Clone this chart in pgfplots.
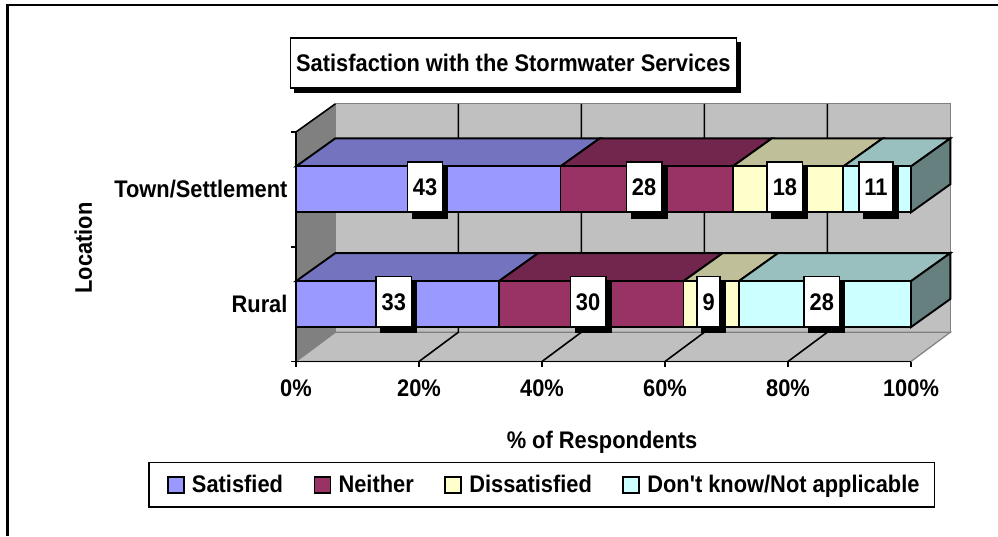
\documentclass[border=0pt]{standalone}
\usepackage{pgfplots}
\pgfplotsset{compat=1.18}
\usetikzlibrary{shadows}
\usepackage{fontspec}
\setmainfont{Liberation Sans}[BoldFont={Liberation Sans Bold},FakeStretch=0.91,Ligatures=TeXOff]
\definecolor{cSat}{HTML}{9999FF}
\definecolor{cNei}{HTML}{993366}
\definecolor{cDis}{HTML}{FFFFCC}
\definecolor{cDon}{HTML}{CCFFFF}
\definecolor{tSat}{HTML}{7373BF}
\definecolor{tNei}{HTML}{73264D}
\definecolor{tDis}{HTML}{BFBF99}
\definecolor{tDon}{HTML}{99BFBF}
\definecolor{sDon}{HTML}{668080}
\definecolor{wall}{HTML}{C0C0C0}
\definecolor{sidewall}{HTML}{808080}
\newcommand{\bigfont}{\fontsize{24}{26}\selectfont\bfseries}
\pgfplotsset{base/.style={
  at={(296pt,174.5pt)},anchor=south west,
  width=615pt,height=229.5pt,scale only axis,
  xmin=0,xmax=100,ymin=-0.5,ymax=1.5,clip=false}}
\begin{document}
\begin{tikzpicture}[x=1pt,y=1pt]
\path[use as bounding box] (0,0) rectangle (998,536);
\draw[line width=2.6pt] (7.5,0) -- (7.5,531) -- (998,531);
% walls, floor, 3D faces
\begin{axis}[base,axis lines=none,
  every axis plot/.append style={line width=1.9pt,black}]
\addplot[fill=wall,draw=sidewall,line width=1.2pt] coordinates {(6.4,-0.245)(106.4,-0.245)(106.4,1.745)(6.4,1.745)} -- cycle;
\addplot[fill=sidewall,draw=sidewall,line width=.6pt] coordinates {(0,-0.5)(6.4,-0.245)(6.4,1.745)(0,1.5)} -- cycle;
\addplot[fill=wall,draw=sidewall,line width=1.2pt] coordinates {(0,-0.5)(100,-0.5)(106.4,-0.245)(6.4,-0.245)} -- cycle;
\addplot[black,line width=1.6pt] coordinates {(0,1.5)(6.4,1.745)};
% gridlines on wall and floor
\addplot[black,line width=1.6pt] coordinates {(20,-0.5)(26.4,-0.245)(26.4,1.745)};
\addplot[black,line width=1.6pt] coordinates {(40,-0.5)(46.4,-0.245)(46.4,1.745)};
\addplot[black,line width=1.6pt] coordinates {(60,-0.5)(66.4,-0.245)(66.4,1.745)};
\addplot[black,line width=1.6pt] coordinates {(80,-0.5)(86.4,-0.245)(86.4,1.745)};
% Town: top faces
\addplot[fill=tSat] coordinates {(0,1.2)(43,1.2)(49.4,1.445)(6.4,1.445)} -- cycle;
\addplot[fill=tNei] coordinates {(43,1.2)(71,1.2)(77.4,1.445)(49.4,1.445)} -- cycle;
\addplot[fill=tDis] coordinates {(71,1.2)(89,1.2)(95.4,1.445)(77.4,1.445)} -- cycle;
\addplot[fill=tDon] coordinates {(89,1.2)(100,1.2)(106.4,1.445)(95.4,1.445)} -- cycle;
\addplot[fill=sDon] coordinates {(100,0.8)(106.4,1.045)(106.4,1.445)(100,1.2)} -- cycle;
% Rural: top faces
\addplot[fill=tSat] coordinates {(0,0.2)(33,0.2)(39.4,0.445)(6.4,0.445)} -- cycle;
\addplot[fill=tNei] coordinates {(33,0.2)(63,0.2)(69.4,0.445)(39.4,0.445)} -- cycle;
\addplot[fill=tDis] coordinates {(63,0.2)(72,0.2)(78.4,0.445)(69.4,0.445)} -- cycle;
\addplot[fill=tDon] coordinates {(72,0.2)(100,0.2)(106.4,0.445)(78.4,0.445)} -- cycle;
\addplot[fill=sDon] coordinates {(100,-0.2)(106.4,0.045)(106.4,0.445)(100,0.2)} -- cycle;
\end{axis}
% front faces, axes, legend
\begin{axis}[base,
  xbar stacked,bar width=46pt,
  axis x line*=bottom,axis y line*=left,
  axis line style={black,line width=1.8pt,-},
  xtick={0,20,40,60,80,100},
  xticklabels={0\%,20\%,40\%,60\%,80\%,100\%},
  ytick={-0.5,0.5,1.5},yticklabels={},
  extra y ticks={0,1},extra y tick labels={Rural,Town/Settlement},
  extra y tick style={major tick length=0pt,ticklabel style={font=\bigfont,xshift=-5pt,yshift=0pt}},
  tick style={black,line width=1.5pt},
  major tick length=5pt,tick align=outside,
  tick label style={font=\bigfont},
  xticklabel style={yshift=-10pt},
  xlabel={\% of Respondents},
  ylabel={Location},
  label style={font=\bigfont},
  xlabel style={at={(axis description cs:0.4976,-0.35)},anchor=center},
  ylabel style={at={(axis description cs:-0.346,0.495)},anchor=center},
  legend style={at={(axis description cs:-0.2405,-0.6395)},anchor=south west,draw=black,line width=1.8pt,
    legend columns=4,font=\bigfont,inner xsep=13pt,inner ysep=11pt,
    /tikz/every even column/.append style={column sep=23.5pt}},
  legend image code/.code={\draw[#1,line width=1.8pt] (6pt,-8pt) rectangle (22pt,8pt);\path[draw=none,fill=none] (0pt,0pt) -- (28pt,0pt);},
  every axis plot/.append style={draw=black,line width=1.9pt}]
\addplot[fill=cSat] coordinates {(33,0)(43,1)};
\addplot[fill=cNei] coordinates {(30,0)(28,1)};
\addplot[fill=cDis] coordinates {(9,0)(18,1)};
\addplot[fill=cDon] coordinates {(28,0)(11,1)};
\legend{Satisfied,Neither,Dissatisfied,Don't know/Not applicable}
\end{axis}
% data labels with shadow
\begin{axis}[base,axis lines=none,
  nodes near coords,point meta=explicit symbolic,
  every node near coord/.style={font=\bigfont,anchor=center,fill=white,draw=black,line width=1.6pt,
    minimum height=50pt,inner xsep=5.5pt,inner ysep=0pt,text height=17pt,text depth=0pt,
    yshift=2.5pt,
    general shadow={fill=black,draw=black,shadow xshift=5pt,shadow yshift=-6pt}}]
\addplot[only marks,mark=none] table[meta=l,x=x,y=y] {
x y l
20.98 1 43
56.6 1 28
79.5 1 18
94.3 1 11
15.9 0 33
47.5 0 30
67.1 0 9
85.5 0 28
};
\end{axis}
\node[draw=black,fill=black,minimum width=446pt,minimum height=50pt,anchor=north west,inner sep=0] at (294,536-42.5) {};
\node[draw=black,fill=white,line width=1.8pt,minimum width=446pt,minimum height=50pt,anchor=north west,inner sep=0,font=\bigfont] at (289.5,536-37) {Satisfaction with the Stormwater Services};
\end{tikzpicture}
\end{document}
